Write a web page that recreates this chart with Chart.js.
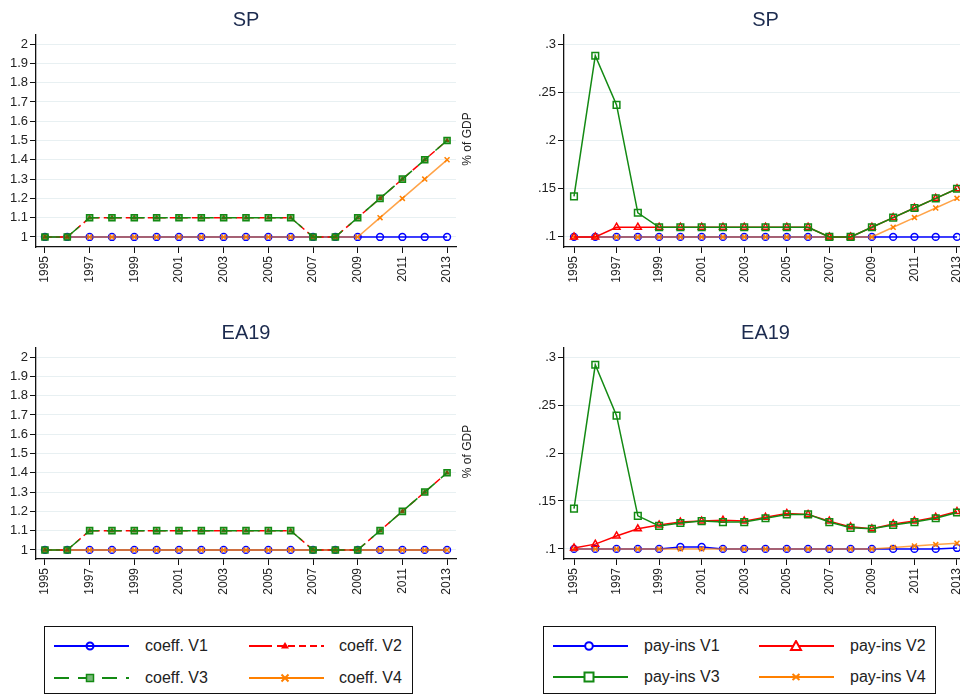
<!DOCTYPE html>
<html>
<head>
<meta charset="utf-8">
<script src="https://cdn.jsdelivr.net/npm/chart.js@4.4.1/dist/chart.umd.min.js"></script>
<style>
  html, body { margin: 0; padding: 0; background: #fff; overflow: hidden; width: 960px; height: 695px; }
  body { position: relative; font-family: "Liberation Sans", Arial, sans-serif; }
  canvas { position: absolute; }
  .legend { position: absolute; box-sizing: border-box; border: 1px solid #111; height: 68px; top: 626px; background: #fff; }
  .item { position: absolute; height: 16px; }
  .item svg { position: absolute; left: 0; top: 2px; }
  .item span { position: absolute; top: -2px; font-size: 16px; color: #222; white-space: nowrap; line-height: 20px; }
</style>
</head>
<body>
<canvas id="tl" width="480" height="300" style="left:0;top:0"></canvas>
<canvas id="tr" width="540" height="300" style="left:480px;top:0"></canvas>
<canvas id="bl" width="480" height="310" style="left:0;top:300px"></canvas>
<canvas id="br" width="540" height="310" style="left:480px;top:300px"></canvas>

<div class="legend" style="left:44px;width:369px">
  <div class="item" style="left:9px;top:11px">
    <svg width="76" height="12"><line x1="0" y1="6" x2="75" y2="6" stroke="#0000ff" stroke-width="2"/><circle cx="36" cy="6" r="3.5" fill="none" stroke="#0000ff" stroke-width="2"/></svg>
    <span style="left:91px">coeff. V1</span>
  </div>
  <div class="item" style="left:204px;top:11px">
    <svg width="76" height="12"><line x1="0" y1="6" x2="75" y2="6" stroke="#ff0000" stroke-width="2" stroke-dasharray="23 5 7 4 7 4 7 4 7 4"/><polygon points="36,2 40,8.5 32,8.5" fill="#ff0000"/></svg>
    <span style="left:90px">coeff. V2</span>
  </div>
  <div class="item" style="left:9px;top:43px">
    <svg width="76" height="12"><line x1="0" y1="6" x2="75" y2="6" stroke="#138a13" stroke-width="2" stroke-dasharray="15 9"/><rect x="32.5" y="2.5" width="7" height="7" fill="#7ab87a" stroke="#138a13" stroke-width="1.5"/></svg>
    <span style="left:91px">coeff. V3</span>
  </div>
  <div class="item" style="left:204px;top:43px">
    <svg width="76" height="12"><line x1="0" y1="6" x2="75" y2="6" stroke="#ff8000" stroke-width="2"/><path d="M32.5 2.5 L39.5 9.5 M39.5 2.5 L32.5 9.5" stroke="#ff8000" stroke-width="2"/></svg>
    <span style="left:90px">coeff. V4</span>
  </div>
</div>

<div class="legend" style="left:543px;width:393px">
  <div class="item" style="left:9px;top:11px">
    <svg width="76" height="12"><line x1="0" y1="6" x2="75" y2="6" stroke="#0000ff" stroke-width="2"/><circle cx="36" cy="6" r="3.8" fill="#fff" stroke="#0000ff" stroke-width="2"/></svg>
    <span style="left:91px">pay-ins V1</span>
  </div>
  <div class="item" style="left:215px;top:11px">
    <svg width="76" height="12"><line x1="0" y1="6" x2="75" y2="6" stroke="#ff0000" stroke-width="2"/><polygon points="37,1 42,10 32,10" fill="#fff" stroke="#ff0000" stroke-width="2"/></svg>
    <span style="left:91px">pay-ins V2</span>
  </div>
  <div class="item" style="left:9px;top:42px">
    <svg width="76" height="12"><line x1="0" y1="6" x2="75" y2="6" stroke="#138a13" stroke-width="2"/><rect x="31.5" y="1.5" width="9" height="9" fill="#fff" stroke="#138a13" stroke-width="2"/></svg>
    <span style="left:91px">pay-ins V3</span>
  </div>
  <div class="item" style="left:215px;top:42px">
    <svg width="76" height="12"><line x1="0" y1="6" x2="75" y2="6" stroke="#ff8000" stroke-width="2"/><path d="M33.5 3 L40.5 9 M40.5 3 L33.5 9" stroke="#ff8000" stroke-width="2"/></svg>
    <span style="left:91px">pay-ins V4</span>
  </div>
</div>

<script>
// Datos
const years = [1995, 1996, 1997, 1998, 1999, 2000, 2001, 2002, 2003, 2004,
               2005, 2006, 2007, 2008, 2009, 2010, 2011, 2012, 2013];
const yearTicks = [1995, 1997, 1999, 2001, 2003, 2005, 2007, 2009, 2011, 2013];
const coeffTicks = [1, 1.1, 1.2, 1.3, 1.4, 1.5, 1.6, 1.7, 1.8, 1.9, 2];
const payTicks = [0.1, 0.15, 0.2, 0.25, 0.3];

// SP - coeff
const spCoeffV1 = [1, 1, 1, 1, 1, 1, 1, 1, 1, 1, 1, 1, 1, 1, 1, 1, 1, 1, 1];
const spCoeffV2 = [1, 1, 1.1, 1.1, 1.1, 1.1, 1.1, 1.1, 1.1, 1.1, 1.1, 1.1, 1, 1, 1.1, 1.2, 1.3, 1.4, 1.5];
const spCoeffV3 = [1, 1, 1.1, 1.1, 1.1, 1.1, 1.1, 1.1, 1.1, 1.1, 1.1, 1.1, 1, 1, 1.1, 1.2, 1.3, 1.4, 1.5];
const spCoeffV4 = [1, 1, 1, 1, 1, 1, 1, 1, 1, 1, 1, 1, 1, 1, 1, 1.1, 1.2, 1.3, 1.4];

// EA19 - coeff
const eaCoeffV1 = [1, 1, 1, 1, 1, 1, 1, 1, 1, 1, 1, 1, 1, 1, 1, 1, 1, 1, 1];
const eaCoeffV2 = [1, 1, 1.1, 1.1, 1.1, 1.1, 1.1, 1.1, 1.1, 1.1, 1.1, 1.1, 1, 1, 1, 1.1, 1.2, 1.3, 1.4];
const eaCoeffV3 = [1, 1, 1.1, 1.1, 1.1, 1.1, 1.1, 1.1, 1.1, 1.1, 1.1, 1.1, 1, 1, 1, 1.1, 1.2, 1.3, 1.4];
const eaCoeffV4 = [1, 1, 1, 1, 1, 1, 1, 1, 1, 1, 1, 1, 1, 1, 1, 1, 1, 1, 1];

// SP - pay-ins
const spPayV1 = [0.1, 0.1, 0.1, 0.1, 0.1, 0.1, 0.1, 0.1, 0.1, 0.1, 0.1, 0.1, 0.1, 0.1, 0.1, 0.1, 0.1, 0.1, 0.1];
const spPayV2 = [0.1, 0.1, 0.11, 0.11, 0.11, 0.11, 0.11, 0.11, 0.11, 0.11, 0.11, 0.11, 0.1, 0.1, 0.11, 0.12, 0.13, 0.14, 0.15];
const spPayV3 = [0.142, 0.288, 0.237, 0.125, 0.11, 0.11, 0.11, 0.11, 0.11, 0.11, 0.11, 0.11, 0.1, 0.1, 0.11, 0.12, 0.13, 0.14, 0.15];
const spPayV4 = [0.1, 0.1, 0.1, 0.1, 0.1, 0.1, 0.1, 0.1, 0.1, 0.1, 0.1, 0.1, 0.1, 0.1, 0.1, 0.11, 0.12, 0.13, 0.14];

// EA19 - pay-ins
const eaPayV1 = [0.1, 0.1, 0.1, 0.1, 0.1, 0.102, 0.102, 0.1, 0.1, 0.1, 0.1, 0.1, 0.1, 0.1, 0.1, 0.1, 0.1, 0.1, 0.101];
const eaPayV2 = [0.101, 0.105, 0.1135, 0.121, 0.125, 0.128, 0.129, 0.13, 0.129, 0.133, 0.137, 0.136, 0.129, 0.123, 0.121, 0.126, 0.129, 0.133, 0.139];
const eaPayV3 = [0.142, 0.292, 0.239, 0.1345, 0.124, 0.127, 0.129, 0.128, 0.128, 0.132, 0.136, 0.136, 0.128, 0.122, 0.121, 0.125, 0.128, 0.132, 0.138];
const eaPayV4 = [0.1, 0.1, 0.1, 0.1, 0.1, 0.1, 0.1, 0.1, 0.1, 0.1, 0.1, 0.1, 0.1, 0.1, 0.1, 0.1015, 0.103, 0.1045, 0.106];

const BLUE = '#0000ff', RED = '#ff0000', GREEN = '#138a13', ORANGE = '#ff8000';
const FONT = '"Liberation Sans", Arial, sans-serif';

// Titulo del panel y etiqueta "% of GDP" a la derecha
const panelText = {
    id: 'panelText',
    afterDraw(chart, args, opts) {
        const { ctx, chartArea: a } = chart;
        ctx.save();
        ctx.fillStyle = '#1c2b4f';
        ctx.font = '20px ' + FONT;
        ctx.textAlign = 'center';
        ctx.textBaseline = 'middle';
        ctx.fillText(opts.title, (a.left + a.right) / 2, a.top - 15);
        ctx.translate(a.right + 12, (a.top + a.bottom) / 2 - 2);
        ctx.rotate(-Math.PI / 2);
        ctx.fillStyle = '#222';
        ctx.font = '12px ' + FONT;
        ctx.fillText('% of GDP', 0, 0);
        ctx.restore();
    }
};

function pts(values) {
    return values.map((v, i) => ({ x: years[i], y: v }));
}

function fmtTick(v) {
    return String(+Number(v).toFixed(3)).replace(/^0\./, '.');
}

// 1. Panel de coeficientes (lineas discontinuas, marcadores pequenos)
function coeffSets(v1, v2, v3, v4, orangeLine) {
    return [
        { data: pts(v3), order: 0, borderColor: GREEN, borderWidth: 1.5, borderDash: [15, 8],
          pointStyle: 'rect', pointRadius: 4.3, pointBorderColor: GREEN, pointBorderWidth: 1.5,
          pointBackgroundColor: 'rgba(19,138,19,0.55)' },
        { data: pts(v2), order: 1, borderColor: RED, borderWidth: 1.5, borderDash: [7, 4],
          pointStyle: 'triangle', pointRadius: 2.2, pointBorderColor: RED, pointBorderWidth: 1,
          pointBackgroundColor: RED },
        { data: pts(v4), order: 2, borderColor: orangeLine, borderWidth: 1.5,
          pointStyle: 'crossRot', pointRadius: 3.5, pointBorderColor: ORANGE, pointBorderWidth: 1.5 },
        { data: pts(v1), order: 3, borderColor: BLUE, borderWidth: 1.5,
          pointStyle: 'circle', pointRadius: 3.4, pointBorderColor: BLUE, pointBorderWidth: 1.5,
          pointBackgroundColor: 'rgba(0,0,0,0)' }
    ];
}

// 2. Panel de pay-ins (lineas continuas, marcadores huecos)
function paySets(v1, v2, v3, v4, orangeLine) {
    return [
        { data: pts(v3), order: 0, borderColor: GREEN, borderWidth: 1.5,
          pointStyle: 'rect', pointRadius: 4.7, pointBorderColor: GREEN, pointBorderWidth: 1.5,
          pointBackgroundColor: 'rgba(0,0,0,0)' },
        { data: pts(v2), order: 1, borderColor: RED, borderWidth: 1.5,
          pointStyle: 'triangle', pointRadius: 4, pointBorderColor: RED, pointBorderWidth: 1.5,
          pointBackgroundColor: 'rgba(0,0,0,0)' },
        { data: pts(v4), order: 2, borderColor: orangeLine, borderWidth: 1.5,
          pointStyle: 'crossRot', pointRadius: 3.5, pointBorderColor: ORANGE, pointBorderWidth: 1.5 },
        { data: pts(v1), order: 3, borderColor: BLUE, borderWidth: 1.5,
          pointStyle: 'circle', pointRadius: 3.4, pointBorderColor: BLUE, pointBorderWidth: 1.5,
          pointBackgroundColor: 'rgba(0,0,0,0)' }
    ];
}

function makePanel(id, cfg) {
    const ctx = document.getElementById(id);
    return new Chart(ctx, {
        type: 'line',
        data: { datasets: cfg.datasets },
        plugins: [panelText],
        options: {
            responsive: false,
            animation: false,
            layout: { padding: cfg.padding },
            elements: { line: { tension: 0 } },
            plugins: {
                legend: { display: false },
                tooltip: { enabled: false },
                panelText: { title: cfg.title }
            },
            scales: {
                x: {
                    type: 'linear',
                    min: cfg.xMin, max: cfg.xMax,
                    afterBuildTicks: s => { s.ticks = yearTicks.map(v => ({ value: v })); },
                    afterFit: s => { s.height = 45; },
                    grid: { drawOnChartArea: false, tickLength: 6, tickColor: '#111', tickWidth: 1 },
                    border: { color: '#111', width: 1.3 },
                    ticks: {
                        minRotation: 90, maxRotation: 90, autoSkip: false, padding: 3,
                        color: '#222', font: { size: 12, family: FONT },
                        callback: v => String(v)
                    }
                },
                y: {
                    min: cfg.yMin, max: cfg.yMax,
                    afterBuildTicks: s => { s.ticks = cfg.yTicks.map(v => ({ value: v })); },
                    afterFit: s => { s.width = cfg.yWidth; },
                    grid: { color: '#e8f0f2', lineWidth: 1, tickLength: 6, tickColor: '#111' },
                    border: { color: '#111', width: 1.3 },
                    ticks: {
                        padding: 2, color: '#222', font: { size: 13, family: FONT },
                        callback: v => fmtTick(v)
                    }
                }
            }
        }
    });
}

const ORANGE_MIX = 'rgba(255,128,0,0.72)';

makePanel('tl', {
    title: 'SP', datasets: coeffSets(spCoeffV1, spCoeffV2, spCoeffV3, spCoeffV4, ORANGE_MIX),
    padding: { top: 35, right: 24, bottom: 8, left: 0 }, yWidth: 36,
    xMin: 1994.6, xMax: 2013.4, yMin: 0.948, yMax: 2.047, yTicks: coeffTicks
});
makePanel('tr', {
    title: 'SP', datasets: paySets(spPayV1, spPayV2, spPayV3, spPayV4, ORANGE_MIX),
    padding: { top: 35, right: 53, bottom: 8, left: 0 }, yWidth: 84,
    xMin: 1994.53, xMax: 2013.47, yMin: 0.0895, yMax: 0.3095, yTicks: payTicks
});
makePanel('bl', {
    title: 'EA19', datasets: coeffSets(eaCoeffV1, eaCoeffV2, eaCoeffV3, eaCoeffV4, ORANGE),
    padding: { top: 48, right: 24, bottom: 6, left: 0 }, yWidth: 36,
    xMin: 1994.6, xMax: 2013.4, yMin: 0.953, yMax: 2.047, yTicks: coeffTicks
});
makePanel('br', {
    title: 'EA19', datasets: paySets(eaPayV1, eaPayV2, eaPayV3, eaPayV4, ORANGE_MIX),
    padding: { top: 48, right: 53, bottom: 6, left: 0 }, yWidth: 84,
    xMin: 1994.53, xMax: 2013.47, yMin: 0.0895, yMax: 0.3095, yTicks: payTicks
});
</script>
</body>
</html>
